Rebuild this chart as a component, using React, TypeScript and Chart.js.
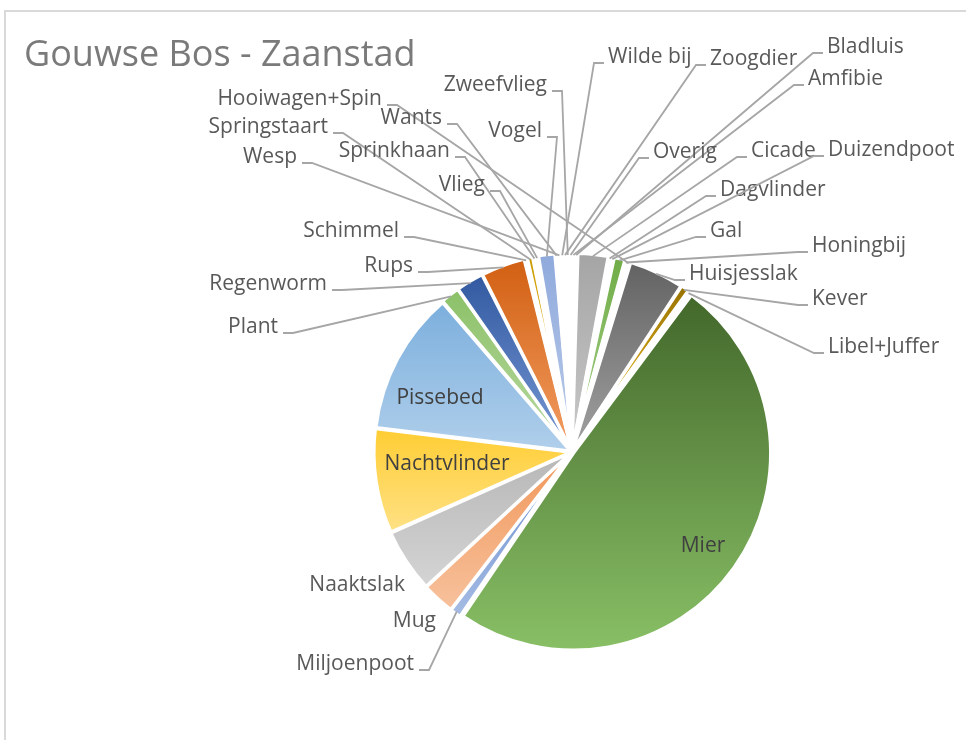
import React, { useEffect, useRef } from 'react';
import { Chart, registerables } from 'chart.js';

Chart.register(...registerables);

// ---------- data ----------
const TITLE = 'Gouwse Bos - Zaanstad';

const CATEGORIES = [
  'Amfibie', 'Bladluis', 'Cicade', 'Dagvlinder', 'Duizendpoot', 'Gal', 'Honingbij',
  'Hooiwagen+Spin', 'Huisjesslak', 'Kever', 'Libel+Juffer', 'Mier', 'Miljoenpoot', 'Mug',
  'Naaktslak', 'Nachtvlinder', 'Pissebed', 'Plant', 'Regenworm', 'Rups', 'Schimmel',
  'Springstaart', 'Sprinkhaan', 'Vlieg', 'Vogel', 'Wants', 'Wesp', 'Wilde bij', 'Zoogdier',
  'Zweefvlieg', 'Overig',
];

const COUNTS = [
  1, 1, 11, 1, 1, 4, 1,
  1, 20, 3, 1, 218, 4, 12,
  23, 38, 52, 7, 10, 16, 1,
  2, 1, 1, 6, 1, 1, 1, 1,
  1, 1,
];

// ---------- styles ----------
const BASE_COLORS = [
  '#4472C4', '#ED7D31', '#A5A5A5', '#FFC000', '#5B9BD5', '#70AD47', '#264478',
  '#9E480E', '#636363', '#997300', '#255E91', '#43682B', '#698ED0', '#F1975A',
  '#B7B7B7', '#FFCD33', '#7CAFDD', '#8CC168', '#335AA1', '#D26012', '#848484',
  '#CC9A00', '#327DC2', '#5A8A39', '#8FAADC', '#F4B183', '#C9C9C9', '#FFD966', '#9DC3E6',
  '#A9D18E', '#203864',
];

const PIE_CENTER_X = 572;
const PIE_CENTER_Y = 452;
const PIE_RADIUS = 195;
const W = 966;
const H = 740;

const FONT = '"Open Sans", "Noto Sans", sans-serif';
const LABEL_COLOR = '#595959';
const INSIDE_COLOR = '#404040';
const LEADER_COLOR = '#A6A6A6';

// label layout relative to pie centre: [side, dx, dy]
// side R: dx = left edge of text, L: dx = right edge of text, IN: centre of text,
// NL: right edge of text, no leader line. dy = leader attach height.
const LABEL_LAYOUT: Record<string, [string, number, number]> = {
  'Wilde bij': ['R', 36, -389],
  'Zoogdier': ['R', 138, -387],
  'Bladluis': ['R', 255, -399],
  'Amfibie': ['R', 236, -367],
  'Overig': ['R', 81, -294],
  'Cicade': ['R', 179, -295],
  'Duizendpoot': ['R', 256, -296],
  'Dagvlinder': ['R', 148, -256],
  'Gal': ['R', 138, -215],
  'Honingbij': ['R', 240, -200],
  'Huisjesslak': ['R', 117, -172],
  'Kever': ['R', 240, -147],
  'Libel+Juffer': ['R', 256, -99],
  'Hooiwagen+Spin': ['L', -190, -347],
  'Wants': ['L', -130, -328],
  'Springstaart': ['L', -244, -319],
  'Sprinkhaan': ['L', -122, -295],
  'Wesp': ['L', -275, -289],
  'Vlieg': ['L', -87, -261],
  'Schimmel': ['L', -173, -215],
  'Rups': ['L', -159, -180],
  'Regenworm': ['L', -245, -162],
  'Plant': ['L', -294, -119],
  'Zweefvlieg': ['L', -25, -361],
  'Vogel': ['L', -30, -315],
  'Miljoenpoot': ['L', -158, 218],
  'Mug': ['NL', -136, 175],
  'Naaktslak': ['NL', -167, 139],
  'Pissebed': ['IN', -132, -54],
  'Nachtvlinder': ['IN', -125, 12],
  'Mier': ['IN', 131, 94],
};

// ---------- helpers ----------
function hexToRgb(hex: string) {
  const n = parseInt(hex.slice(1), 16);
  return [(n >> 16) & 255, (n >> 8) & 255, n & 255];
}
function rgbToHsl(r: number, g: number, b: number) {
  r /= 255; g /= 255; b /= 255;
  const max = Math.max(r, g, b), min = Math.min(r, g, b);
  let h = 0, s = 0;
  const l = (max + min) / 2;
  if (max !== min) {
    const d = max - min;
    s = l > 0.5 ? d / (2 - max - min) : d / (max + min);
    if (max === r) h = (g - b) / d + (g < b ? 6 : 0);
    else if (max === g) h = (b - r) / d + 2;
    else h = (r - g) / d + 4;
    h /= 6;
  }
  return [h, s, l];
}
function hslToRgb(h: number, s: number, l: number) {
  if (s === 0) return [l * 255, l * 255, l * 255];
  const hue2rgb = (p: number, q: number, t: number) => {
    if (t < 0) t += 1;
    if (t > 1) t -= 1;
    if (t < 1 / 6) return p + (q - p) * 6 * t;
    if (t < 1 / 2) return q;
    if (t < 2 / 3) return p + (q - p) * (2 / 3 - t) * 6;
    return p;
  };
  const q = l < 0.5 ? l * (1 + s) : l + s - l * s;
  const p = 2 * l - q;
  return [hue2rgb(p, q, h + 1 / 3) * 255, hue2rgb(p, q, h) * 255, hue2rgb(p, q, h - 1 / 3) * 255];
}
function lighten(hex: string, amt: number) {
  const [r, g, b] = hexToRgb(hex);
  const [h, s, l] = rgbToHsl(r, g, b);
  const nl = l + (1 - l) * amt;
  const [nr, ng, nb] = hslToRgb(h, s, nl);
  return `rgb(${Math.round(nr)},${Math.round(ng)},${Math.round(nb)})`;
}

function sliceFill(context: any) {
  const chart = context.chart;
  const i = context.dataIndex;
  const base = BASE_COLORS[i % BASE_COLORS.length];
  const area = chart.chartArea;
  if (!area || i === undefined) return base;
  const data: number[] = chart.data.datasets[0].data;
  const total = data.reduce((a, b) => a + b, 0);
  let before = 0;
  for (let j = 0; j < i; j++) before += data[j];
  const a0 = -Math.PI / 2 + (before / total) * Math.PI * 2;
  const a1 = a0 + (data[i] / total) * Math.PI * 2;
  const cx = (area.left + area.right) / 2;
  const cy = (area.top + area.bottom) / 2;
  const r = PIE_RADIUS;
  const ys = [cy, cy + r * Math.sin(a0), cy + r * Math.sin(a1)];
  for (const k of [-Math.PI / 2, Math.PI / 2, (3 * Math.PI) / 2]) {
    if (k > a0 && k < a1) ys.push(cy + r * Math.sin(k));
  }
  const y0 = Math.min(...ys);
  const y1 = Math.max(...ys);
  if (y1 - y0 < 1) return base;
  const g = chart.ctx.createLinearGradient(0, y0, 0, y1);
  g.addColorStop(0, base);
  g.addColorStop(1, lighten(base, 0.4));
  return g;
}

const titlePlugin = {
  id: 'excelTitle',
  afterDraw(chart: any) {
    const ctx = chart.ctx;
    ctx.save();
    ctx.font = `36px ${FONT}`;
    ctx.fillStyle = '#7A7A7A';
    ctx.textAlign = 'left';
    ctx.textBaseline = 'alphabetic';
    ctx.fillText(TITLE, 24, 66);
    ctx.restore();
  },
};

const labelPlugin = {
  id: 'pieLabels',
  afterDatasetsDraw(chart: any) {
    const ctx = chart.ctx;
    const meta = chart.getDatasetMeta(0);
    const labels: string[] = chart.data.labels;
    ctx.save();
    ctx.font = `21px ${FONT}`;
    ctx.textBaseline = 'middle';
    ctx.lineWidth = 1.8;
    ctx.strokeStyle = LEADER_COLOR;
    meta.data.forEach((arc: any, i: number) => {
      const name = labels[i];
      const lay = LABEL_LAYOUT[name];
      if (!lay) return;
      const [side, dx, dy] = lay;
      const { x, y, startAngle, endAngle, outerRadius } = arc.getProps(
        ['x', 'y', 'startAngle', 'endAngle', 'outerRadius'], true);
      const mid = (startAngle + endAngle) / 2;
      const px = x + Math.cos(mid) * (outerRadius + 2);
      const py = y + Math.sin(mid) * (outerRadius + 2);
      const ax = x + dx;
      const ay = y + dy;
      if (side === 'IN') {
        ctx.fillStyle = INSIDE_COLOR;
        ctx.textAlign = 'center';
        ctx.fillText(name, ax, ay);
        return;
      }
      ctx.fillStyle = LABEL_COLOR;
      if (side === 'R') {
        ctx.textAlign = 'left';
        ctx.fillText(name, ax, ay - 6);
        ctx.beginPath();
        ctx.moveTo(ax - 4, ay);
        ctx.lineTo(ax - 14, ay);
        ctx.lineTo(px, py);
        ctx.stroke();
      } else {
        ctx.textAlign = 'right';
        ctx.fillText(name, ax, ay - 6);
        if (side === 'L') {
          ctx.beginPath();
          ctx.moveTo(ax + 5, ay);
          ctx.lineTo(ax + 15, ay);
          ctx.lineTo(px, py);
          ctx.stroke();
        }
      }
    });
    ctx.restore();
  },
};

export default function App() {
  const ref = useRef<HTMLCanvasElement | null>(null);
  useEffect(() => {
    if (!ref.current) return;
    const chart = new Chart(ref.current, {
      type: 'pie',
      data: {
        labels: CATEGORIES,
        datasets: [
          {
            data: COUNTS,
            backgroundColor: sliceFill,
            borderColor: '#FFFFFF',
            borderWidth: 3,
            offset: 8,
            radius: PIE_RADIUS,
          } as any,
        ],
      },
      options: {
        responsive: false,
        animation: false,
        events: [],
        layout: {
          padding: {
            left: PIE_CENTER_X - 200,
            right: W - (PIE_CENTER_X + 200),
            top: PIE_CENTER_Y - 200,
            bottom: H - (PIE_CENTER_Y + 200),
          },
        },
        plugins: {
          legend: { display: false },
          tooltip: { enabled: false },
          title: { display: false },
        },
      } as any,
      plugins: [labelPlugin, titlePlugin],
    });
    return () => chart.destroy();
  }, []);

  return (
    <div style={{ position: 'fixed', left: 0, top: 0, width: W, height: H, overflow: 'hidden', background: '#fff' }}>
      <div
        style={{
          position: 'absolute', left: 4, top: 10, width: 1000, height: 800,
          border: '2px solid #D9D9D9', boxSizing: 'border-box',
        }}
      />
      <canvas
        ref={ref}
        width={W}
        height={H}
        style={{ position: 'absolute', left: 0, top: 0, width: W, height: H }}
      />
    </div>
  );
}
